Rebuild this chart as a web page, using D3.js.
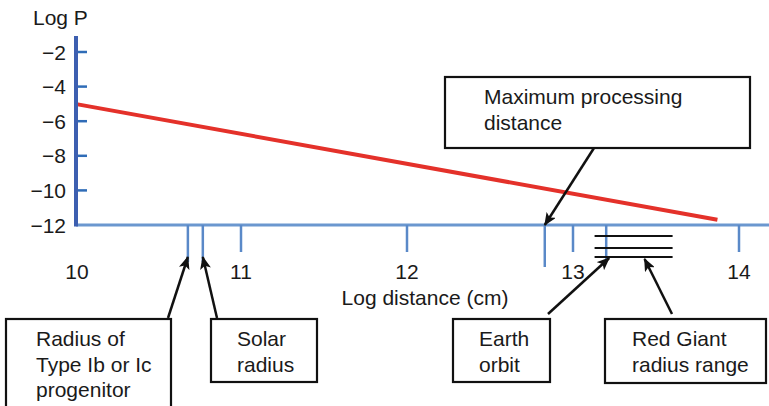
<!DOCTYPE html>
<html>
<head>
<meta charset="utf-8">
<script src="https://cdn.jsdelivr.net/npm/d3@7"></script>
<style>
  html, body { margin: 0; padding: 0; background: #fff; }
  svg { display: block; font-family: "Liberation Sans", Arial, Helvetica, sans-serif; }
</style>
</head>
<body>
<svg id="chart" width="769" height="406"></svg>
<script>
// Log P as a function of log distance (cm)
const xTicks = [10, 11, 12, 13, 14];
const yTicks = [-2, -4, -6, -8, -10, -12];
const yTickLabels = ["\u22122", "\u22124", "\u22126", "\u22128", "\u221210", "\u221212"];

// Probability curve: [log distance, log P]
const curveX = [10, 13.87];
const curveY = [-5, -11.7];

// Marked distances along the axis (log cm)
const markerNames = ["Radius of Type Ib or Ic progenitor", "Solar radius", "Maximum processing distance", "Earth orbit"];
const markerValues = [10.68, 10.77, 12.83, 13.20];

// Red giant radius range (log cm)
const redGiantRange = [13.13, 13.60];

const svg = d3.select("#chart");
const W = 769;
const FS = 21;

const x = d3.scaleLinear().domain([10, 14]).range([75, 739]);
const y = d3.scaleLinear().domain([-12, -2]).range([225, 52]);
const axisY = y(-12);
const axisX = x(10) + 1;

// arrowhead
const defs = svg.append("defs");
defs.append("marker")
  .attr("id", "head")
  .attr("viewBox", "0 0 13 11")
  .attr("refX", 12).attr("refY", 5.5)
  .attr("markerWidth", 13).attr("markerHeight", 11)
  .attr("markerUnits", "userSpaceOnUse")
  .attr("orient", "auto")
  .append("path")
  .attr("d", "M0,0 L13,5.5 L0,11 L3,5.5 Z")
  .attr("fill", "#111");

// red curve
const curve = curveX.map((d, i) => [d, curveY[i]]);
svg.append("path")
  .datum(curve)
  .attr("d", d3.line().x(d => x(d[0])).y(d => y(d[1])))
  .attr("fill", "none")
  .attr("stroke", "#e4312a")
  .attr("stroke-width", 4);

// x axis line
svg.append("line")
  .attr("x1", axisX).attr("x2", W)
  .attr("y1", axisY).attr("y2", axisY)
  .attr("stroke", "#6b97cf").attr("stroke-width", 3);

// x axis ticks and labels
svg.selectAll(".xtick").data(xTicks.slice(1)).enter().append("line")
  .attr("x1", d => x(d)).attr("x2", d => x(d))
  .attr("y1", axisY).attr("y2", axisY + 27)
  .attr("stroke", "#5a89c8").attr("stroke-width", 2.5);
svg.selectAll(".xlab").data(xTicks).enter().append("text")
  .attr("x", d => x(d) + (d === 10 ? 2 : 0))
  .attr("y", axisY + 54)
  .attr("text-anchor", "middle")
  .attr("font-size", FS)
  .attr("fill", "#1a1a1a")
  .text(d => d);

// marker ticks
const markerDepth = [37, 37, 42, 35];
svg.selectAll(".mtick").data(markerValues).enter().append("line")
  .attr("x1", d => x(d)).attr("x2", d => x(d))
  .attr("y1", axisY).attr("y2", (d, i) => axisY + markerDepth[i])
  .attr("stroke", "#5a89c8").attr("stroke-width", 2.5);

// red giant range: three black bars
const rgOffsets = [11, 23, 32];
svg.selectAll(".rg").data(rgOffsets).enter().append("line")
  .attr("x1", x(redGiantRange[0])).attr("x2", x(redGiantRange[1]))
  .attr("y1", d => axisY + d).attr("y2", d => axisY + d)
  .attr("stroke", "#111").attr("stroke-width", 2);

// y axis
svg.append("line")
  .attr("x1", axisX).attr("x2", axisX)
  .attr("y1", y(-2) - 16).attr("y2", axisY + 1.5)
  .attr("stroke", "#3d5fb0").attr("stroke-width", 4);
svg.selectAll(".ytick").data(yTicks.slice(0, -1)).enter().append("line")
  .attr("x1", axisX + 2).attr("x2", axisX + 11)
  .attr("y1", d => y(d)).attr("y2", d => y(d))
  .attr("stroke", "#2f6cb7").attr("stroke-width", 2.5);
svg.selectAll(".ylab").data(yTicks).enter().append("text")
  .attr("x", axisX - 10)
  .attr("y", d => y(d) + 7.5)
  .attr("text-anchor", "end")
  .attr("font-size", FS)
  .attr("fill", "#1a1a1a")
  .text((d, i) => yTickLabels[i]);

// axis titles
svg.append("text").attr("x", 33).attr("y", 25)
  .attr("font-size", FS).attr("fill", "#1a1a1a").text("Log P");
svg.append("text").attr("x", 425).attr("y", 305)
  .attr("text-anchor", "middle")
  .attr("font-size", FS).attr("fill", "#1a1a1a").text("Log distance (cm)");

// annotation boxes
const boxes = [
  { x: 445, y: 77, w: 305, h: 71, tx: 484, lines: ["Maximum processing", "distance"] },
  { x: 6, y: 319, w: 165, h: 100, tx: 36, lines: ["Radius of", "Type Ib or Ic", "progenitor"] },
  { x: 211, y: 319, w: 106, h: 63, tx: 237, lines: ["Solar", "radius"] },
  { x: 453, y: 319, w: 97, h: 63, tx: 479, lines: ["Earth", "orbit"] },
  { x: 605, y: 319, w: 161, h: 64, tx: 632, lines: ["Red Giant", "radius range"] }
];
boxes.forEach(b => {
  svg.append("rect")
    .attr("x", b.x).attr("y", b.y).attr("width", b.w).attr("height", b.h)
    .attr("fill", "#fff").attr("stroke", "#111").attr("stroke-width", 2.2);
  b.lines.forEach((t, i) => {
    svg.append("text")
      .attr("x", b.tx).attr("y", b.y + 27 + i * 25.5)
      .attr("font-size", FS).attr("fill", "#1a1a1a").text(t);
  });
});

// arrows from boxes to axis positions
const arrows = [
  { x1: 168, y1: 318, x2: x(markerValues[0]), y2: axisY + 32 },
  { x1: 217, y1: 318, x2: x(markerValues[1]), y2: axisY + 32 },
  { x1: 594, y1: 148, x2: x(markerValues[2]), y2: axisY },
  { x1: 548, y1: 314, x2: x(markerValues[3]) + 3, y2: axisY + 33 },
  { x1: 672, y1: 314, x2: x(redGiantRange[0]) + 50, y2: axisY + 34 }
];
svg.selectAll(".arrow").data(arrows).enter().append("line")
  .attr("x1", d => d.x1).attr("y1", d => d.y1)
  .attr("x2", d => d.x2).attr("y2", d => d.y2)
  .attr("stroke", "#111").attr("stroke-width", 2.5)
  .attr("marker-end", "url(#head)");
</script>
</body>
</html>
